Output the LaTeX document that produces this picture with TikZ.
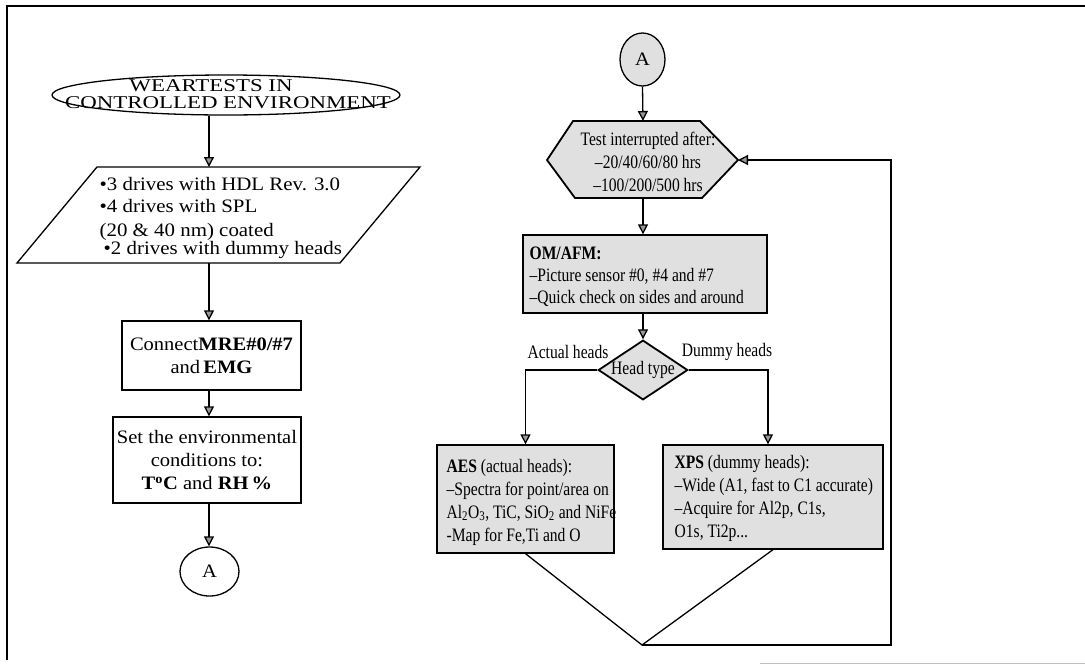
\documentclass[tikz,border=0pt]{standalone}
\usepackage{fontspec}
\setmainfont{Liberation Serif}
\newfontfamily\ellfont[FakeStretch=1.27]{Liberation Serif}
\newfontfamily\boxfont[FakeStretch=1.08]{Liberation Serif}
\newfontfamily\parfont[FakeStretch=1.1]{Liberation Serif}
\newfontfamily\rfont[FakeStretch=0.82]{Liberation Serif}
\usetikzlibrary{shapes.geometric,arrows.meta,calc}
\begin{document}
\begin{tikzpicture}[x=1pt,y=-1pt, line width=1.3pt,
  arr/.style={-{Triangle[length=10pt,width=10pt,fill=black!40]}},
  lt/.style={font=\boxfont\fontsize{19}{23}\selectfont},
  pt/.style={font=\parfont\fontsize{19}{22}\selectfont},
  et/.style={font=\ellfont\fontsize{18}{17.5}\selectfont},
  rt/.style={font=\rfont\fontsize{19}{23}\selectfont},
  shade/.style={fill=black!12},
  box/.style={draw, rectangle, inner sep=0pt},
]
\useasboundingbox (0,0) rectangle (1085,665);
% frame
\draw[line width=1.5pt] (7,660) -- (7,6) -- (1085,6);
\draw[gray!50, line width=1pt] (760,663) -- (1085,663);

% ---- left column ----
\node[draw, ellipse, minimum width=348, minimum height=40, inner sep=0] (ell) at (226,95) {};
\node[et, align=center, inner sep=0] (elltxt) at (228,94) {WEARTESTS IN\hspace*{34pt}\\CONTROLLED ENVIRONMENT};

\coordinate (pTL) at (97,167);
\coordinate (pTR) at (420,167);
\coordinate (pBR) at (340,263);
\coordinate (pBL) at (17,263);
\coordinate (pTop) at (209,167);
\coordinate (pBot) at (209,263);
\draw (pTL) -- (pTR) -- (pBR) -- (pBL) -- cycle;
\node[pt, anchor=west, align=left, inner sep=0] (para) at (99,218)
  {•3 drives with HDL Rev. 3.0\\•4 drives with SPL\\[2pt](20 \& 40 nm) coated\\[-4pt]\hspace{4pt}•2 drives with dummy heads};

\node[box, lt, minimum width=179, minimum height=69, align=center] (b1) at (211.5,355.5)
  {Connect\textbf{MRE\#0/\#7}\\and\,\textbf{EMG}};
\node[box, lt, minimum width=188, minimum height=86, align=center] (b2) at (207,460)
  {Set the environmental\\conditions to:\\\textbf{T\textsuperscript{o}C} and \textbf{RH\,\%}};
\node[draw, ellipse, minimum width=59, minimum height=49, inner sep=0, lt] (aL) at (209.5,571.5) {A};

\draw[arr] (ell.south -| pTop) -- (pTop);
\draw[arr] (pBot) -- (b1.north -| pBot);
\draw[arr] (b1.south -| pBot) -- (b2.north -| pBot);
\draw[arr] (b2.south -| pBot) -- (aL.north -| pBot);

% ---- right column ----
\node[draw, ellipse, shade, minimum width=45, minimum height=53, inner sep=0, lt] (aR) at (642.5,59.5) {A};

\coordinate (hL) at (547,160);
\coordinate (hTL) at (573,121);
\coordinate (hTR) at (700,121);
\coordinate (hR) at (738,160);
\coordinate (hBR) at (702,198);
\coordinate (hBL) at (575,198);
\coordinate (hT) at (643,121);
\coordinate (hB) at (643,198);
\filldraw[shade, line width=1.8pt] (hL) -- (hTL) -- (hTR) -- (hR) -- (hBR) -- (hBL) -- cycle;
\node[rt, align=center, inner sep=0] (hex) at (648,162)
  {Test interrupted after:\\–20/40/60/80 hrs\\–100/200/500 hrs};

\node[box, shade, minimum width=244, minimum height=78] (om) at (645,274) {};
\node[rt, anchor=west, align=left, inner sep=0, font=\rfont\fontsize{19}{22}\selectfont] (omtxt) at (529,277)
  {\textbf{OM/AFM:}\\–Picture sensor \#0, \#4 and \#7\\–Quick check on sides and around};

\node[draw, shade, diamond, shape aspect=1.5, minimum width=88, minimum height=59, inner sep=0, line width=1.8pt, rt] (dia) at (643,370) {Head type};
\node[rt] (lact) at (568,352) {Actual heads};
\node[rt] (ldum) at (727,352) {Dummy heads};

\node[box, shade, minimum width=177, minimum height=108] (aes) at (525.5,499) {};
\node[rt, anchor=west, align=left, inner sep=0] (aestxt) at (446,502)
  {\textbf{AES} (actual heads):\\–Spectra for point/area on\\Al\textsubscript{2}O\textsubscript{3}, TiC, SiO\textsubscript{2} and NiFe\\-Map for Fe,Ti and O};
\node[box, shade, minimum width=220, minimum height=104] (xps) at (773,497) {};
\node[rt, anchor=west, align=left, inner sep=0] (xpstxt) at (674,498)
  {\textbf{XPS} (dummy heads):\\–Wide (A1, fast to C1 accurate)\\–Acquire for Al2p, C1s,\\O1s, Ti2p...};

\coordinate (mg) at (642,645);
\coordinate (lp) at (891,645);

\draw[arr] (aR.south) -- (hT);
\draw[arr] (hB) -- (om.north -| hB);
\draw[arr] (om.south -| dia.north) -- (dia.north);
\draw[arr] (dia.west) -| (aes.north);
\draw[arr] (dia.east) -| ([xshift=-5pt]xps.north);
\draw (aes.south) -- (mg) -- (xps.south);
\draw[arr] (mg) -- (lp) |- (hR);
\end{tikzpicture}
\end{document}
